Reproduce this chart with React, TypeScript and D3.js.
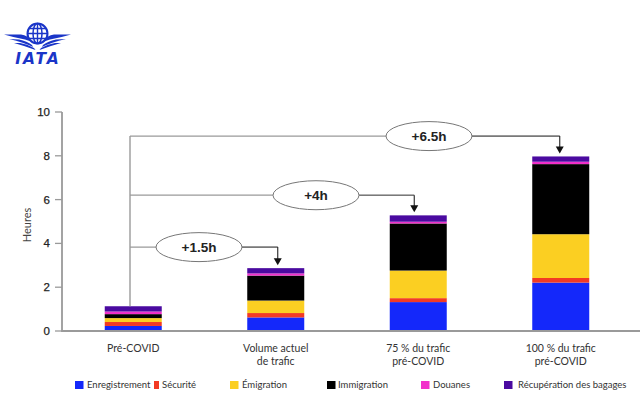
import * as React from 'react';
import * as d3 from 'd3';

const categories = ['Pré-COVID', 'Volume actuel\nde trafic', '75 % du trafic\npré-COVID', '100 % du trafic\npré-COVID'];
const stages = ['Enregistrement', 'Sécurité', 'Émigration', 'Immigration', 'Douanes', 'Récupération des bagages'];
const stageColors = ['#1428fa', '#f23a24', '#fbcf22', '#000000', '#f22fcb', '#4a0aa0'];

const enregistrement = [0.23, 0.62, 1.32, 2.21];
const securite = [0.18, 0.2, 0.18, 0.21];
const emigration = [0.18, 0.57, 1.26, 2.0];
const immigration = [0.18, 1.14, 2.15, 3.2];
const douanes = [0.12, 0.1, 0.08, 0.11];
const bagages = [0.24, 0.24, 0.29, 0.24];
const seriesValues = [enregistrement, securite, emigration, immigration, douanes, bagages];

const yTicks = [0, 2, 4, 6, 8, 10];

// callouts: label, height of the line in hours, target bar
const calloutLabels = ['+1.5h', '+4h', '+6.5h'];
const calloutLevels = [3.83, 6.2, 8.9];
const calloutBars = [1, 2, 3];
const calloutCenters = [199, 316, 429];
const arrowOffsets = [2, -4, -1]; // arrows are not quite centred on the bars

// legend swatch / text x
const legendX = [75, 154, 230, 327, 421, 504];
const legendGap = [12, 8, 12, 11, 12, 14];

const font = 'Lato, "Noto Sans", sans-serif';
const boldFont = '"Liberation Sans", sans-serif';
const grey = '#9a9a9a';

const rows = categories.map((c, i) => {
	const row: any = { category: c };
	stages.forEach((s, j) => (row[s] = seriesValues[j][i]));
	return row;
});

const Logo = () => {
	const blue = '#1a35c8';
	const wing = (
		<g fill={blue}>
			<path d="M4 34.5 L21 34.5 Q28 35 31 41.5 L25 39.5 Q14 37.5 4 34.5 Z" />
			<path d="M9 39 L19 39.5 Q27 41 32 45 L33 47 Q24 42.5 9 39 Z" />
			<path d="M14 43 L20 43 Q27 44 34 48 L35.5 50 Q25 46 14 43 Z" />
		</g>
	);
	return (
		<g>
			<g transform="translate(37.5 33.5)" fill="none" stroke={blue} strokeWidth={2}>
				<circle r={10} />
				<ellipse rx={4.5} ry={10} strokeWidth={1.5} />
				<path d="M0 -10 V10 M-10 0 H10 M-8.5 -5 H8.5 M-8.5 5 H8.5" strokeWidth={1.4} />
			</g>
			{wing}
			<g transform="translate(75 0) scale(-1 1)">{wing}</g>
			<text x={38} y={64} textAnchor="middle" fontFamily='"DejaVu Sans", sans-serif' fontWeight={700} fontStyle="italic" fontSize={15.5} letterSpacing={2} fill={blue}>
				IATA
			</text>
		</g>
	);
};

export default function App() {
	const y = d3.scaleLinear().domain([0, 10]).range([331, 112]);
	const x = d3.scaleBand().domain(categories).range([62, 632]).paddingInner(0.6).paddingOuter(0.3);
	const stacked = d3.stack<any>().keys(stages)(rows);
	const totals = categories.map((_, i) => d3.sum(seriesValues, s => s[i]));
	const stemX = 130;
	const barCenter = (i: number) => x(categories[i])! + x.bandwidth() / 2;

	return (
		<svg width={640} height={400} style={{ position: 'absolute', left: 0, top: 0 }} fontFamily={font}>
			<rect width={640} height={400} fill="#fff" />
			<Logo />

			{stacked.map((s, j) => (
				<g key={s.key} fill={stageColors[j]}>
					{s.map((d, i) => (
						<rect key={i} x={x(categories[i])} width={x.bandwidth()} y={y(d[1])} height={y(d[0]) - y(d[1])} />
					))}
				</g>
			))}

			{/* axes */}
			<path d={`M62 ${y(10)} V${y(0)} H640`} fill="none" stroke={grey} strokeWidth={1.8} />
			{yTicks.map(t => (
				<g key={t} transform={`translate(0 ${y(t)})`}>
					<line x1={55} x2={62} stroke={grey} strokeWidth={1.3} />
					<text x={50} dy="0.35em" textAnchor="end" fontSize={11.5} fontFamily={boldFont} fill="#222" stroke="#222" strokeWidth={0.25}>
						{t}
					</text>
				</g>
			))}
			<text transform="translate(31 225) rotate(-90)" textAnchor="middle" fontSize={11} fill="#444">
				Heures
			</text>
			{categories.map((c, i) =>
				c.split('\n').map((line, k) => (
					<text key={line} x={barCenter(i)} y={352 + k * 13} textAnchor="middle" fontSize={10.5} fill="#333">
						{line}
					</text>
				))
			)}

			{/* callouts */}
			<line x1={stemX} x2={stemX} y1={y(calloutLevels[2])} y2={y(totals[0])} stroke={grey} strokeWidth={1.4} />
			{calloutLabels.map((label, i) => {
				const ly = y(calloutLevels[i]);
				const ax = barCenter(calloutBars[i]) + arrowOffsets[i];
				const tip = y(totals[calloutBars[i]]) - 3;
				return (
					<g key={label}>
						<line x1={stemX} x2={ax} y1={ly} y2={ly} stroke={grey} strokeWidth={1.2} />
						<line x1={calloutCenters[i] + 43} x2={ax} y1={ly} y2={ly} stroke="#666" strokeWidth={1.1} />
						<line x1={ax} x2={ax} y1={ly} y2={tip - 5} stroke="#222" strokeWidth={1.1} />
						<path d={`M${ax - 4} ${tip - 7} H${ax + 4} L${ax} ${tip} Z`} fill="#111" />
						<ellipse cx={calloutCenters[i]} cy={ly} rx={43} ry={14.5} fill="#fff" stroke="#777" strokeWidth={1} />
						<text x={calloutCenters[i]} y={ly} dy="0.36em" textAnchor="middle" fontSize={13.5} fontFamily={boldFont} fontWeight={700} fill="#222">
							{label}
						</text>
					</g>
				);
			})}

			{/* legend */}
			{stages.map((s, j) => (
				<g key={s}>
					<rect x={legendX[j]} y={381} width={j === 1 ? 5 : 8.5} height={8} fill={stageColors[j]} />
					<text x={legendX[j] + legendGap[j]} y={388} fontSize={9.5} fill="#333">
						{s}
					</text>
				</g>
			))}
		</svg>
	);
}
